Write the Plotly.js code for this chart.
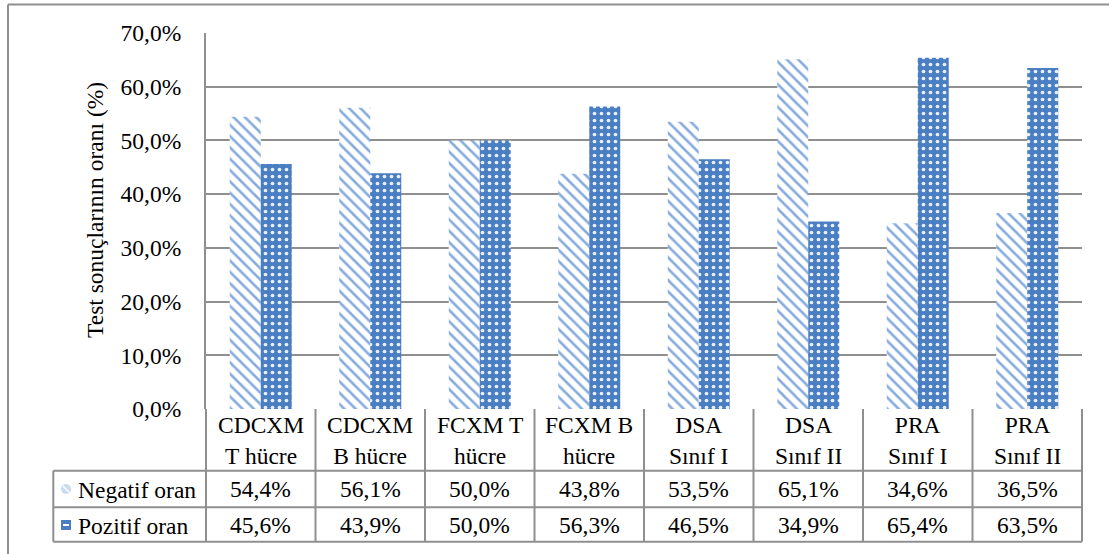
<!DOCTYPE html>
<html>
<head>
<meta charset="utf-8">
<script src="https://cdn.plot.ly/plotly-3.0.1.min.js"></script>
<style>
  html, body { margin: 0; padding: 0; background: #ffffff; }
  #chart { width: 1109px; height: 554px; }
</style>
</head>
<body>
<div id="chart"></div>
<script>
// Test categories (two-line header labels in the data table)
const categories = [
  "CDCXM<br>T hücre", "CDCXM<br>B hücre", "FCXM T<br>hücre", "FCXM B<br>hücre",
  "DSA<br>Sınıf I", "DSA<br>Sınıf II", "PRA<br>Sınıf I", "PRA<br>Sınıf II"
];
const seriesNames = ["Negatif oran", "Pozitif oran"];
const negatifOran = [54.4, 56.1, 50.0, 43.8, 53.5, 65.1, 34.6, 36.5];
const pozitifOran = [45.6, 43.9, 50.0, 56.3, 46.5, 34.9, 65.4, 63.5];
const yTicks = [0, 10, 20, 30, 40, 50, 60, 70];

const FONT = "Liberation Serif, Times New Roman, serif";
const FS = 23.5;
const GRID = "#8f8f8f";
const BLUE = "#4a7ec2";
const STRIPE = "#86abdf";

const W = 1109, H = 554;
const M = { l: 206, r: 27, t: 33, b: 145 };
const PW = W - M.l - M.r, PH = H - M.t - M.b;
// pixel -> paper helpers for the data table drawn under the plot
const px = x => (x - M.l) / PW;
const py = y => (H - M.b - y) / PH;

const fmt = v => v.toFixed(1).replace(".", ",") + "%";
const xIdx = categories.map((_, i) => i);

const traces = [
  {
    type: "bar", name: seriesNames[0], x: xIdx, y: negatifOran,
    marker: {
      color: STRIPE, line: { width: 0 },
      pattern: { shape: "\\", bgcolor: "#ffffff", fgcolor: STRIPE, size: 8, solidity: 0.32, fillmode: "replace" }
    },
    hoverinfo: "skip"
  },
  {
    type: "bar", name: seriesNames[1], x: xIdx, y: pozitifOran,
    marker: {
      color: BLUE, line: { width: 0 },
      pattern: { shape: ".", bgcolor: BLUE, fgcolor: "#e6eef9", size: 7, solidity: 0.22, fillmode: "replace" }
    },
    hoverinfo: "skip"
  }
];

const shapes = [];
const annotations = [];
const line = (x0, y0, x1, y1, color, width) => shapes.push({
  type: "line", xref: "paper", yref: "paper",
  x0: px(x0), y0: py(y0), x1: px(x1), y1: py(y1),
  line: { color: color || GRID, width: width || 2 }
});

// outer chart frame (left and top edges)
line(8, 4.5, 8, 560);
line(8, 4.5, 1115, 4.5);

// data table grid
const colW = PW / categories.length;
const tTop = H - M.b, tHead = 470.7, tRow = 507.3, tBot = 541.7, tLeft = 53.3;
for (let i = 0; i <= categories.length; i++) {
  const xx = M.l + i * colW;
  line(xx, tTop, xx, tBot);
}
line(tLeft, tHead, W - M.r, tHead);
line(tLeft, tRow, W - M.r, tRow);
line(tLeft, tBot, W - M.r, tBot);
line(tLeft, tHead, tLeft, tBot);

const txt = (x, y, text, anchor) => annotations.push({
  xref: "paper", yref: "paper", x: px(x), y: py(y), text: text,
  showarrow: false, xanchor: anchor || "center", yanchor: "middle",
  font: { family: FONT, size: FS, color: "#000000" }
});

const rowsY = [489, 524.5];
const rows = [negatifOran, pozitifOran];
categories.forEach((c, i) => {
  const cx = M.l + (i + 0.5) * colW;
  txt(cx, 441, c);
  rows.forEach((r, k) => txt(cx, rowsY[k], fmt(r[i])));
});
seriesNames.forEach((n, k) => txt(76, rowsY[k] + 1, n, "left"));

// legend keys in the table
shapes.push({ type: "circle", xref: "paper", yref: "paper",
  x0: px(61), x1: px(71), y0: py(494), y1: py(484),
  fillcolor: "#c9dbf1", line: { width: 0 } });
shapes.push({ type: "line", xref: "paper", yref: "paper",
  x0: px(63), x1: px(69), y0: py(486), y1: py(492),
  line: { color: "#ffffff", width: 1.5 } });
shapes.push({ type: "rect", xref: "paper", yref: "paper",
  x0: px(61), x1: px(71), y0: py(530), y1: py(520),
  fillcolor: BLUE, line: { width: 0 } });
shapes.push({ type: "line", xref: "paper", yref: "paper",
  x0: px(63), x1: px(69), y0: py(525), y1: py(525),
  line: { color: "#ffffff", width: 2 } });

// vertical axis title
annotations.push({
  xref: "paper", yref: "paper", x: px(95), y: py(210),
  text: "Test sonuçlarının oranı (%)", textangle: -90, showarrow: false,
  xanchor: "center", yanchor: "middle",
  font: { family: FONT, size: FS, color: "#000000" }
});

const layout = {
  width: W, height: H,
  margin: M,
  paper_bgcolor: "#ffffff", plot_bgcolor: "#ffffff",
  showlegend: false,
  barmode: "group", bargap: 0.434, bargroupgap: 0,
  font: { family: FONT, size: FS, color: "#000000" },
  xaxis: {
    range: [-0.5, categories.length - 0.5], showticklabels: false,
    showgrid: false, zeroline: false, showline: false, ticks: "", fixedrange: true
  },
  yaxis: {
    range: [0, 70], tickmode: "array", tickvals: yTicks, ticktext: yTicks.map(fmt),
    showgrid: true, gridcolor: GRID, gridwidth: 2,
    zeroline: false, showline: true, linecolor: GRID, linewidth: 2,
    ticks: "", ticklabelstandoff: 18,
    tickfont: { family: FONT, size: FS, color: "#000000" }, fixedrange: true
  },
  shapes: shapes,
  annotations: annotations
};

Plotly.newPlot("chart", traces, layout, { staticPlot: true, displayModeBar: false });
</script>
</body>
</html>
